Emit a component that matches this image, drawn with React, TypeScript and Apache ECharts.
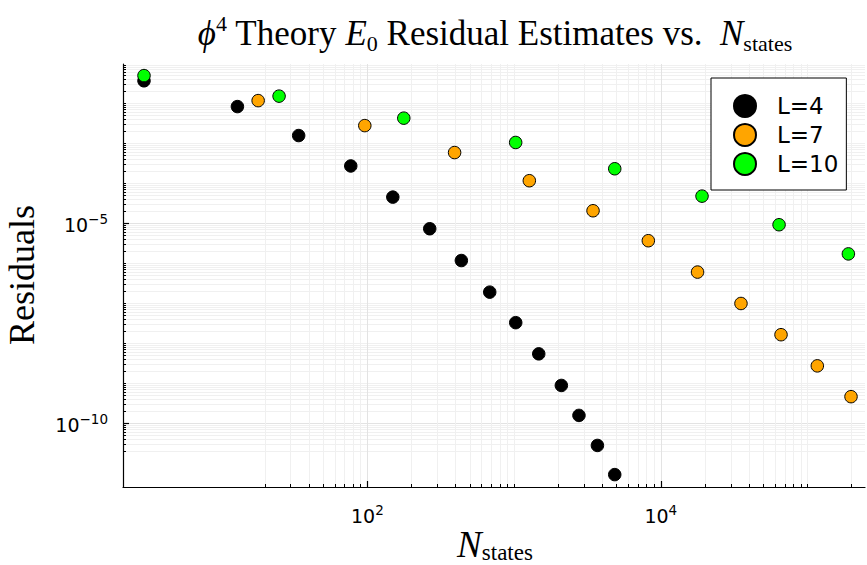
import React, { useEffect, useRef } from 'react';
import * as echarts from 'echarts';

// ---- data ----
const SERIES_NAMES = ['L=4', 'L=7', 'L=10'];
const SERIES_COLORS = ['#000000', '#FFA500', '#00FF00'];

const L4_N = [3, 13, 34, 77, 149, 266, 437, 682, 1026, 1472, 2099, 2768, 3698, 4853];
const L4_RES = [3.63e-2, 8.22e-3, 1.55e-3, 2.69e-4, 4.47e-5, 7.24e-6, 1.16e-6, 1.88e-7, 3.24e-8, 5.37e-9, 8.71e-10, 1.55e-10, 2.75e-11, 5.13e-12];

const L7_N = [18, 96, 393, 1270, 3452, 8223, 17800, 35200, 66000, 116700, 198000];
const L7_RES = [1.16e-2, 2.75e-3, 5.82e-4, 1.15e-4, 2.04e-5, 3.63e-6, 5.96e-7, 9.77e-8, 1.62e-8, 2.69e-9, 4.57e-10];

const L10_N = [3, 25, 177, 1025, 4853, 19100, 64000, 190000];
const L10_RES = [4.9e-2, 1.5e-2, 4.22e-3, 1.04e-3, 2.29e-4, 4.73e-5, 9.12e-6, 1.7e-6];

// axis ranges and ticks
const X_MIN = Math.pow(10, 0.334);
const X_MAX = Math.pow(10, 5.392);
const Y_MIN = Math.pow(10, -11.6);
const Y_MAX = Math.pow(10, -1.02);
const X_MAJOR = [100, 10000];
const Y_MAJOR = [1e-10, 1e-5];
const X_MINOR_START = 20;
const Y_MINOR_START = 2e-11;

function logMinorTicks(expFrom: number, expTo: number, lo: number, hi: number) {
  const out: number[] = [];
  for (let e = expFrom; e <= expTo; e++) {
    for (let k = 1; k <= 9; k++) {
      const v = k * Math.pow(10, e);
      if (v >= lo * 0.999 && v <= hi) out.push(v);
    }
  }
  return out;
}
const X_MINOR = logMinorTicks(1, 5, X_MINOR_START, X_MAX);
const Y_MINOR = logMinorTicks(-11, -1, Y_MINOR_START, Y_MAX);

const supLabel = (v: number) => {
  const e = Math.round(Math.log10(v));
  return `{b|10}{s|${e < 0 ? '\u2212' + -e : e}}`;
};

const SANS = '"DejaVu Sans", sans-serif';
const SERIF = '"Liberation Serif", "DejaVu Serif", serif';

const tickRich = {
  b: { fontSize: 19, fontFamily: SANS, color: '#000', lineHeight: 22, verticalAlign: 'bottom' },
  s: { fontSize: 13.5, fontFamily: SANS, color: '#000', lineHeight: 14, verticalAlign: 'top' },
};

export default function App() {
  const ref = useRef<HTMLDivElement>(null);
  useEffect(() => {
    if (!ref.current) return;
    const chart = echarts.init(ref.current, undefined, { renderer: 'svg' });
    const pairs = (xs: number[], ys: number[]) => xs.map((x, i) => [x, ys[i]]);
    const datasets = [pairs(L4_N, L4_RES), pairs(L7_N, L7_RES), pairs(L10_N, L10_RES)];

    const baseX = { type: 'log', logBase: 10, min: X_MIN, max: X_MAX, position: 'bottom' };
    const baseY = { type: 'log', logBase: 10, min: Y_MIN, max: Y_MAX, position: 'left' };

    chart.setOption({
      animation: false,
      backgroundColor: '#ffffff',
      grid: { left: 123, top: 64, width: 742, height: 423, containLabel: false },
      xAxis: [
        {
          ...baseX,
          axisLine: { show: true, lineStyle: { color: '#000', width: 1.2 } },
          axisTick: { show: true, inside: true, length: 3, customValues: X_MINOR, lineStyle: { color: '#000', width: 1 } },
          axisLabel: { show: false },
          splitLine: { show: true, lineStyle: { color: '#f0f0f0', width: 1 } },
          minorTick: { show: false },
          minorSplitLine: { show: false },
        },
        {
          ...baseX,
          axisLine: { show: false },
          axisTick: { show: true, inside: true, length: 6, customValues: X_MAJOR, lineStyle: { color: '#000', width: 1.2 } },
          axisLabel: { show: true, customValues: X_MAJOR, margin: 16, formatter: supLabel, rich: tickRich },
          splitLine: { show: true, lineStyle: { color: '#e3e3e3', width: 1 } },
        },
      ],
      yAxis: [
        {
          ...baseY,
          axisLine: { show: true, lineStyle: { color: '#000', width: 1.2 } },
          axisTick: { show: true, inside: true, length: 3, customValues: Y_MINOR, lineStyle: { color: '#000', width: 1 } },
          axisLabel: { show: false },
          splitLine: { show: true, lineStyle: { color: '#f0f0f0', width: 1 } },
          minorTick: { show: false },
          minorSplitLine: { show: false },
        },
        {
          ...baseY,
          axisLine: { show: false },
          axisTick: { show: true, inside: true, length: 6, customValues: Y_MAJOR, lineStyle: { color: '#000', width: 1.2 } },
          axisLabel: { show: true, customValues: Y_MAJOR, margin: 15, formatter: supLabel, rich: tickRich },
          splitLine: { show: true, lineStyle: { color: '#e3e3e3', width: 1 } },
        },
      ],
      legend: {
        show: true,
        orient: 'vertical',
        left: 711,
        top: 78,
        padding: [16, 8, 14, 22],
        itemWidth: 22,
        itemHeight: 22,
        itemGap: 5,
        icon: 'circle',
        backgroundColor: '#fff',
        borderColor: '#000',
        borderWidth: 1,
        borderRadius: 0,
        textStyle: { fontFamily: SANS, fontSize: 23, color: '#000', padding: [0, 0, 0, 16] },
        data: SERIES_NAMES,
      },
      series: datasets.map((d, i) => ({
        name: SERIES_NAMES[i],
        type: 'scatter',
        xAxisIndex: 0,
        yAxisIndex: 0,
        data: d,
        symbol: 'circle',
        symbolSize: 12.5,
        itemStyle: { color: SERIES_COLORS[i], borderColor: '#000', borderWidth: 1, opacity: 1 },
        z: 3 + i,
      })),
      graphic: [
        {
          type: 'text',
          x: 495,
          y: 33,
          style: {
            text: '{i|\u03D5}{p|4}{r| Theory }{i|E}{q|0}{r| Residual Estimates vs.  }{i|N}{q|states}',
            align: 'center',
            verticalAlign: 'middle',
            fill: '#000',
            rich: {
              i: { fontFamily: SERIF, fontStyle: 'italic', fontSize: 35, lineHeight: 42, verticalAlign: 'middle', fill: '#000' },
              r: { fontFamily: SERIF, fontSize: 35, lineHeight: 42, verticalAlign: 'middle', fill: '#000' },
              p: { fontFamily: SERIF, fontSize: 22, lineHeight: 22, verticalAlign: 'top', fill: '#000' },
              q: { fontFamily: SERIF, fontSize: 22, lineHeight: 22, verticalAlign: 'bottom', fill: '#000' },
            },
          },
        },
        {
          type: 'text',
          x: 22,
          y: 275,
          rotation: Math.PI / 2,
          style: {
            text: 'Residuals',
            align: 'center',
            verticalAlign: 'middle',
            fontFamily: SERIF,
            fontSize: 36,
            fill: '#000',
          },
        },
        {
          type: 'text',
          x: 495,
          y: 544,
          style: {
            text: '{i|N}{q|states}',
            align: 'center',
            verticalAlign: 'middle',
            fill: '#000',
            rich: {
              i: { fontFamily: SERIF, fontStyle: 'italic', fontSize: 37, lineHeight: 40, verticalAlign: 'middle', fill: '#000' },
              q: { fontFamily: SERIF, fontSize: 23, lineHeight: 22, verticalAlign: 'bottom', fill: '#000' },
            },
          },
        },
      ],
    });
    return () => chart.dispose();
  }, []);
  return <div ref={ref} style={{ position: 'fixed', left: 0, top: 0, width: 867, height: 565, background: '#fff' }} />;
}
